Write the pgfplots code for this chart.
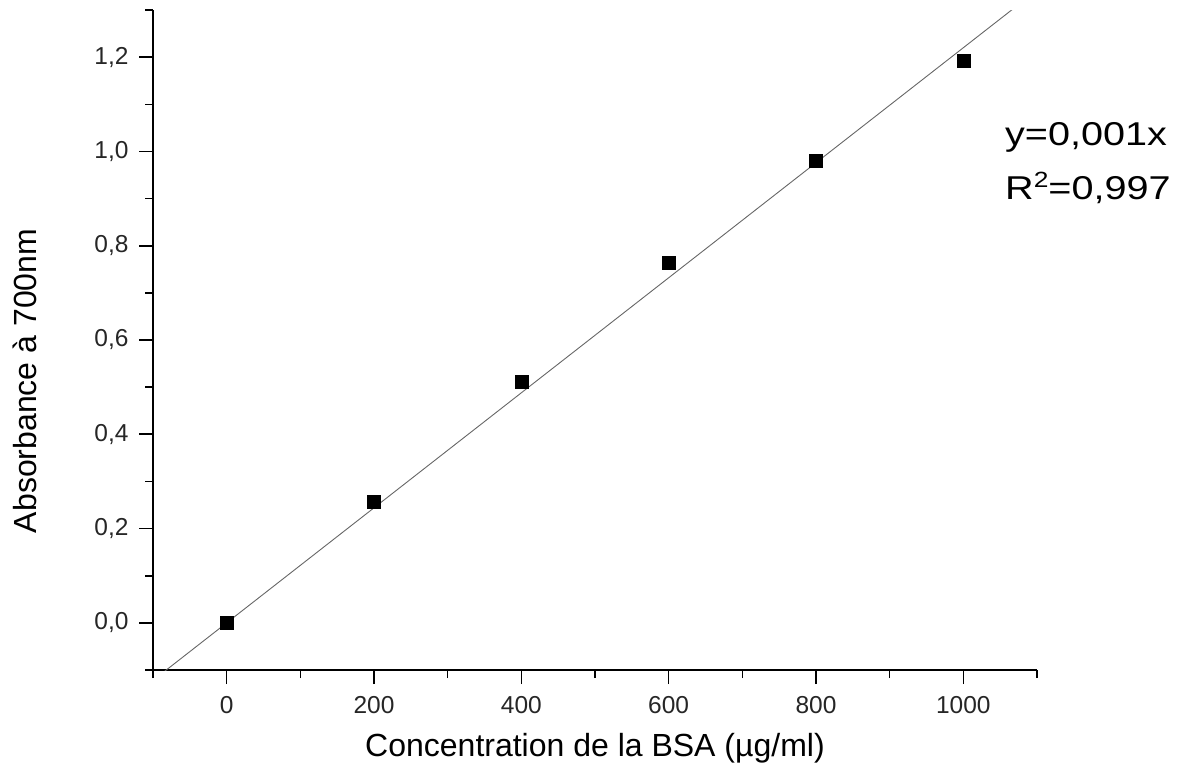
\documentclass[border=0pt]{standalone}
\usepackage{pgfplots}
\pgfplotsset{compat=1.18}
\usepackage{graphicx}
\usepackage{fontspec}
\setmainfont{Liberation Sans}
\begin{document}
\begin{tikzpicture}
\begin{axis}[
  scale only axis,
  width=884pt, height=660pt,
  xmin=-100, xmax=1100, ymin=-0.1, ymax=1.3,
  axis lines*=left,
  axis line style={line width=1.6pt, -},
  xtick={0,200,...,1000},
  minor xtick={-100,100,...,1100},
  ytick={0,0.2,...,1.2},
  minor ytick={-0.1,0.1,0.3,0.5,0.7,0.9,1.1,1.3},
  tick align=outside,
  major tick length=14pt,
  minor tick length=8pt,
  tick style={line width=1.6pt, black},
  /pgf/number format/assume math mode=true,
  yticklabel style={/pgf/number format/.cd, use comma, fixed, fixed zerofill, precision=1},
  xticklabel style={/pgf/number format/.cd, fixed, set thousands separator={}},
  ticklabel style={font=\fontsize{24.5}{28}\selectfont, text=black!85},
  xticklabel shift=9pt,
  yticklabel shift=7pt,
  xlabel={Concentration de la BSA (µg/ml)},
  ylabel={Absorbance à 700nm},
  label style={font=\fontsize{32}{36}\selectfont},
  xlabel style={at={(axis description cs:0.5,-0.118)}, anchor=center},
  ylabel style={at={(axis description cs:-0.145,0.438)}, anchor=center},
  clip mode=individual,
]
\addplot[gray!80!black, line width=0.9pt, no markers] coordinates {(-100,-0.122) (1100,1.342)};
\addplot[only marks, mark=square*, mark size=6.5pt, black] coordinates {
 (0,0) (200,0.257) (400,0.512) (600,0.765) (800,0.981) (1000,1.192)};
\node[anchor=base west, inner sep=0pt] at (axis description cs:0.9638,0.795)
  {\scalebox{1.2}[1]{\fontsize{33}{36}\selectfont y=0,001x}};
\node[anchor=base west, inner sep=0pt] at (axis description cs:0.9638,0.7136)
  {\scalebox{1.2}[1]{\fontsize{33}{36}\selectfont R\raisebox{0.36em}{\fontsize{22}{22}\selectfont 2}=0,997}};
\coordinate (bl) at (axis description cs:-0.1731,-0.150);
\coordinate (tr) at (axis description cs:1.1618,1.0152);
\end{axis}
\useasboundingbox (bl) rectangle (tr);
\end{tikzpicture}
\end{document}
